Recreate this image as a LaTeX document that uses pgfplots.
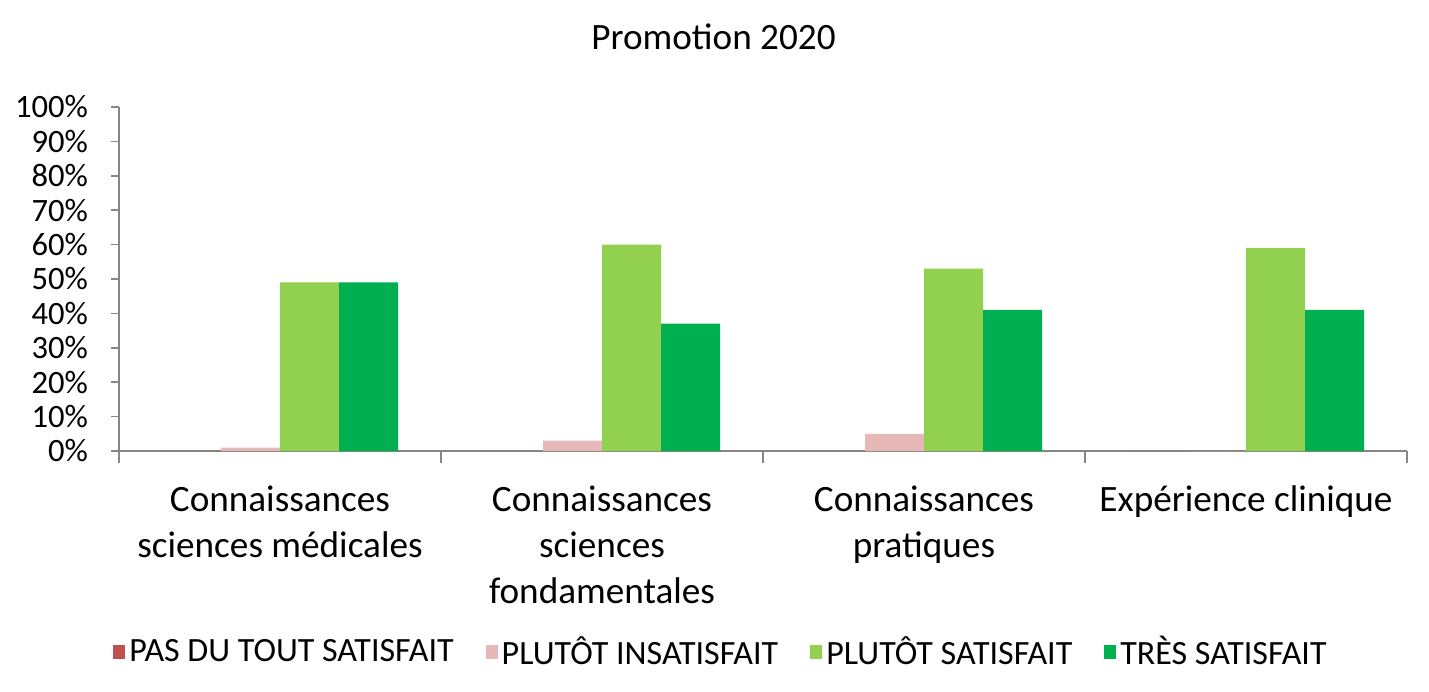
\documentclass[border=0pt]{standalone}
\usepackage{pgfplots}
\pgfplotsset{compat=1.18}
\usepackage{fontspec}
\setmainfont{Carlito}
\definecolor{c1}{HTML}{C0504D}
\definecolor{c2}{HTML}{E6B9B8}
\definecolor{c3}{HTML}{92D050}
\definecolor{c4}{HTML}{00B050}
\definecolor{axgray}{HTML}{868686}
\begin{document}
\begin{tikzpicture}
\begin{axis}[
  scale only axis,
  width=644pt, height=172pt,
  ybar=0pt, bar width=29.5pt,
  xmin=-0.5, xmax=3.5, ymin=0, ymax=100,
  axis x line=bottom, axis y line=left,
  axis line style={-, draw=axgray, line width=0.8pt},
  tick style={draw=axgray, line width=0.8pt},
  tick align=outside,
  major tick length=4pt, minor tick length=6pt,
  xtick={0,1,2,3},
  every major x tick/.append style={draw=none},
  minor xtick={-0.5,0.5,1.5,2.5,3.5},
  xticklabels={{Connaissances\\sciences médicales},{Connaissances\\sciences\\fondamentales},{Connaissances\\pratiques},{Expérience clinique}},
  xticklabel style={align=center, font=\fontsize{18.6}{23}\selectfont, anchor=north, yshift=-10pt},
  ytick={0,10,...,100},
  yticklabel={\pgfmathprintnumber{\tick}\%},
  yticklabel style={font=\fontsize{16.3}{19.5}\selectfont, xshift=-8pt},
  /pgf/number format/assume math mode=true,
  title={Promotion 2020},
  title style={at={(0.4616,1)}, anchor=base, yshift=23pt, font=\fontsize{18.6}{22}\selectfont},
  legend columns=4,
  legend style={draw=none, at={(-0.0093,-0.584)}, anchor=west, font=\fontsize{17}{20}\selectfont,
    /tikz/every even column/.append style={column sep=14pt}},
  legend image code/.code={\fill[#1] (0pt,-3.5pt) rectangle (6pt,3.5pt);},
]
\addplot[fill=c1, draw=none] coordinates {(0,0) (1,0) (2,0) (3,0)};
\addplot[fill=c2, draw=none] coordinates {(0,1) (1,3) (2,5) (3,0)};
\addplot[fill=c3, draw=none] coordinates {(0,49) (1,60) (2,53) (3,59)};
\addplot[fill=c4, draw=none] coordinates {(0,49) (1,37) (2,41) (3,41)};
\legend{PAS DU TOUT SATISFAIT, PLUTÔT INSATISFAIT, PLUTÔT SATISFAIT, TRÈS SATISFAIT}
\coordinate (O) at (rel axis cs:0,0);
\end{axis}
\pgfresetboundingbox
\path (O) ++(-59.5pt,-120pt) rectangle ++(714.5pt,345.5pt);
\end{tikzpicture}
\end{document}
